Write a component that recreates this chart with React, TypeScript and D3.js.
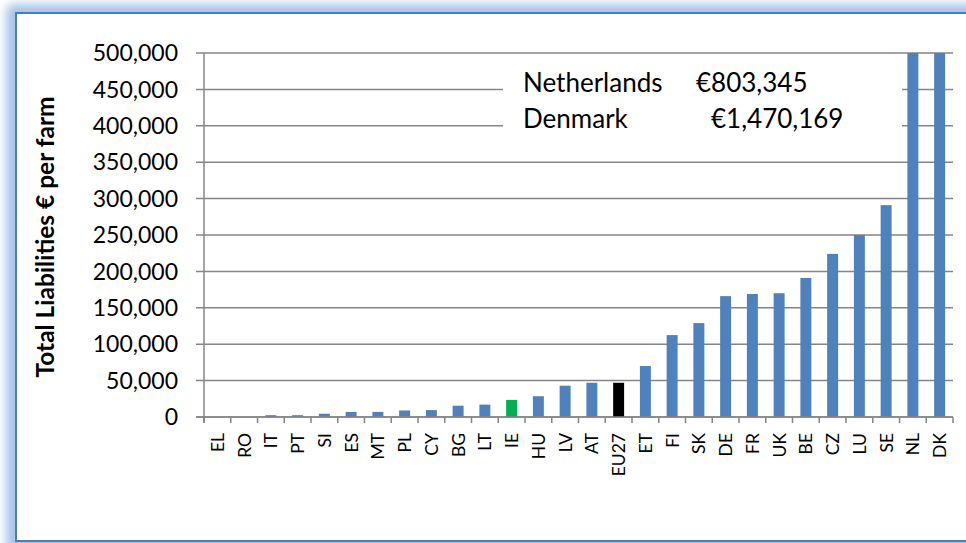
import React from 'react';
import * as d3 from 'd3';

const countries = ['EL', 'RO', 'IT', 'PT', 'SI', 'ES', 'MT', 'PL', 'CY', 'BG', 'LT', 'IE', 'HU', 'LV', 'AT', 'EU27', 'ET', 'FI', 'SK', 'DE', 'FR', 'UK', 'BE', 'CZ', 'LU', 'SE', 'NL', 'DK'];
const liabilities = [0, 0, 2500, 2500, 4500, 7000, 7000, 9000, 9500, 15500, 17000, 23500, 28500, 43000, 47000, 47000, 70000, 112500, 129000, 166000, 169000, 170000, 191000, 224000, 250000, 291000, 803345, 1470169];
const yTicks = [0, 50000, 100000, 150000, 200000, 250000, 300000, 350000, 400000, 450000, 500000];
const notes = [
  { name: 'Netherlands', value: '€803,345' },
  { name: 'Denmark', value: '€1,470,169' },
];

const W = 966;
const H = 543;
const margin = { top: 53, right: 13, bottom: 126, left: 204 };
const FONT = 'Lato, "Open Sans", sans-serif';

const barColor = (c: string) => (c === 'IE' ? '#00b050' : c === 'EU27' ? '#000000' : '#4f81bd');

export default function App() {
  const x = d3.scaleBand<string>()
    .domain(countries)
    .range([margin.left, W - margin.right])
    .paddingInner(0.59)
    .paddingOuter(0.295);

  const y = d3.scaleLinear()
    .domain([0, 500000])
    .range([H - margin.bottom, margin.top])
    .clamp(true);

  const step = x.step();
  const x0 = margin.left;
  const fmt = d3.format(',');

  return (
    <svg width={W} height={H} style={{ position: 'absolute', left: 0, top: 0, background: '#fff' }}>
      <defs>
        <filter id="glow" x="-10%" y="-10%" width="120%" height="120%">
          <feGaussianBlur stdDeviation="5" />
        </filter>
      </defs>

      {/* frame with soft blue glow */}
      <rect x={6} y={4} width={W + 40} height={H + 20} rx={8} fill="#a7c4ea" filter="url(#glow)" />
      <rect x={16} y={13} width={W + 40} height={528} fill="#fff" stroke="#4a7ebb" strokeWidth={2} />

      {/* gridlines */}
      {yTicks.map(t => (
        <line key={t} x1={x0 - 8} x2={W - margin.right} y1={y(t)} y2={y(t)} stroke="#868686" strokeWidth={1.5} />
      ))}

      {/* y axis */}
      <line x1={x0} x2={x0} y1={y(500000)} y2={y(0) + 6} stroke="#868686" strokeWidth={1.5} />
      {yTicks.map(t => (
        <text key={t} x={x0 - 26} y={y(t)} dy="0.36em" textAnchor="end" fontFamily={FONT} fontSize={23} fill="#000">
          {fmt(t)}
        </text>
      ))}

      {/* x ticks */}
      {d3.range(countries.length + 1).map(i => (
        <line key={i} x1={x0 + i * step} x2={x0 + i * step} y1={y(0)} y2={y(0) + 6} stroke="#868686" strokeWidth={1.5} />
      ))}

      {/* bars */}
      {countries.map((c, i) => (
        <rect
          key={c}
          x={x(c)}
          y={y(liabilities[i])}
          width={x.bandwidth()}
          height={y(0) - y(liabilities[i])}
          fill={barColor(c)}
        />
      ))}

      {/* redraw baseline over bars */}
      <line x1={x0 - 8} x2={W - margin.right} y1={y(0)} y2={y(0)} stroke="#868686" strokeWidth={1.5} />

      {/* x labels */}
      {countries.map(c => {
        const cx = (x(c) ?? 0) + x.bandwidth() / 2;
        return (
          <text
            key={c}
            transform={`translate(${cx + 6.5},${y(0) + 16}) rotate(-90)`}
            textAnchor="end"
            fontFamily={FONT}
            fontSize={17.5}
            fill="#000"
          >
            {c}
          </text>
        );
      })}

      {/* annotation box */}
      <rect x={503} y={55} width={399} height={96} fill="#fff" />
      {notes.map((n, i) => (
        <g key={n.name} fontFamily={FONT} fontSize={26} fill="#000">
          <text x={523} y={92 + i * 35.5}>{n.name}</text>
          <text x={i === 0 ? 696 : 711} y={92 + i * 35.5}>{n.value}</text>
        </g>
      ))}

      {/* y axis title */}
      <text
        transform={`translate(54,237) rotate(-90)`}
        textAnchor="middle"
        fontFamily={FONT}
        fontSize={24.5}
        fontWeight="bold"
        fill="#000"
      >
        Total Liabilities € per farm
      </text>
    </svg>
  );
}
